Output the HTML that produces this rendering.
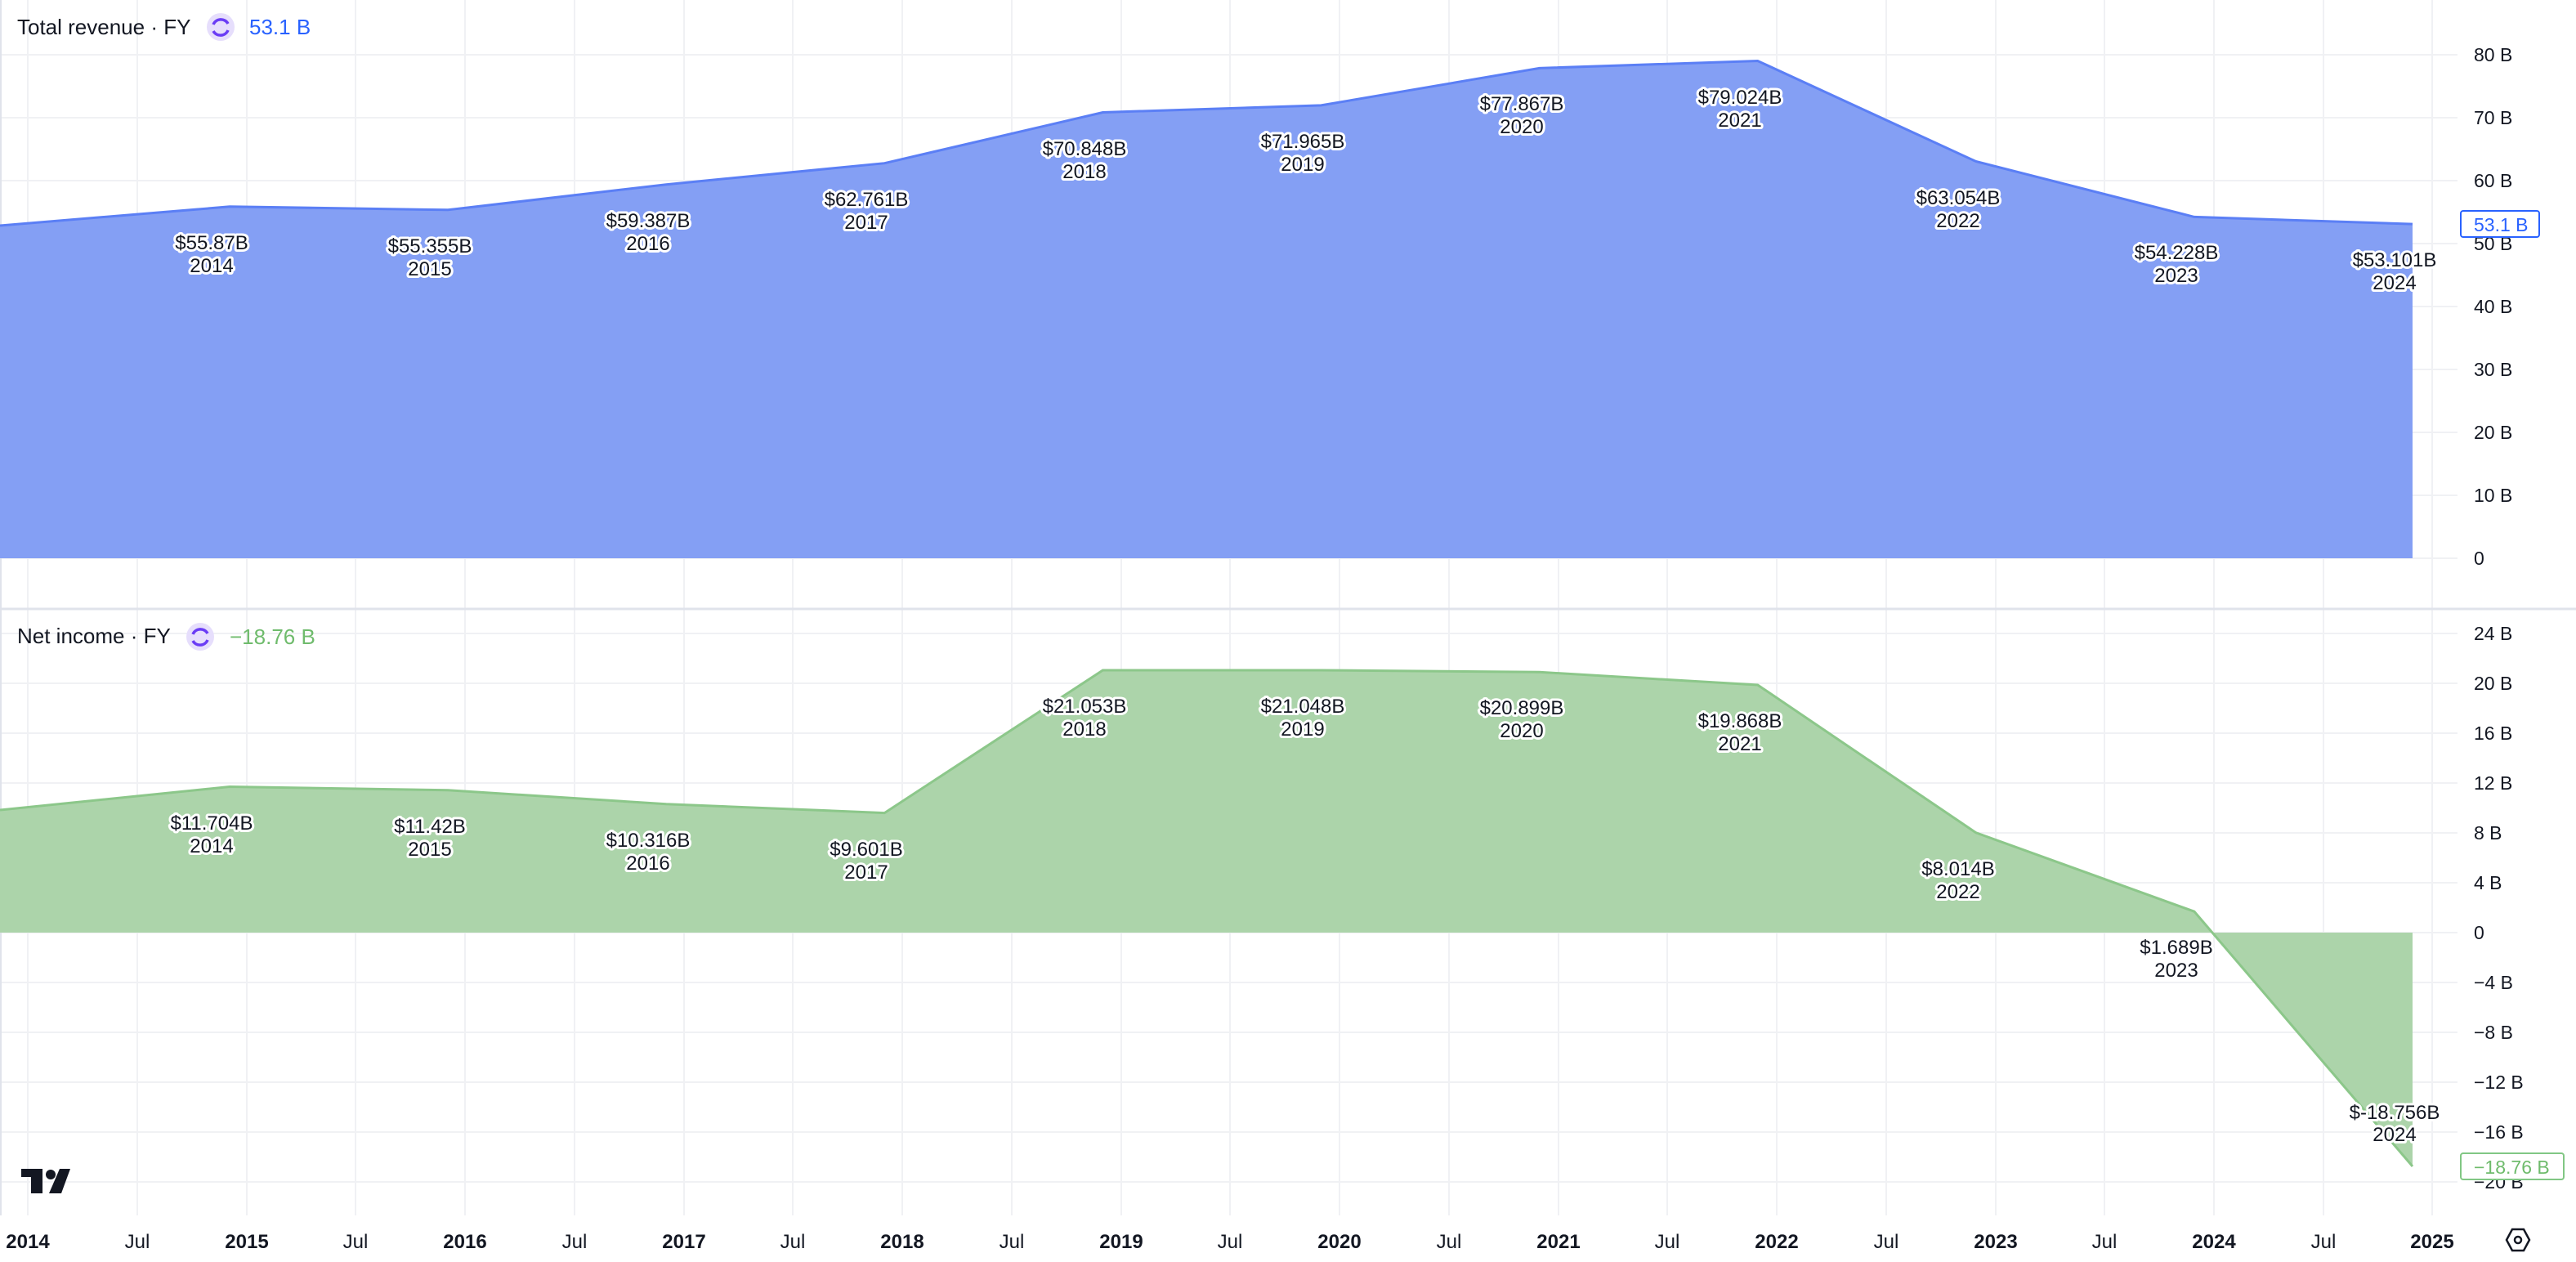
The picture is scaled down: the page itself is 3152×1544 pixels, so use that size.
<!DOCTYPE html>
<html><head><meta charset="utf-8"><style>
html,body{margin:0;padding:0;background:#fff;}
svg{display:block;}
text{font-family:"Liberation Sans",sans-serif;}
.lb{font-size:24px;fill:#131722;text-anchor:middle;stroke:#fff;stroke-width:6px;stroke-linejoin:round;paint-order:stroke;}
.ax{font-size:23px;fill:#131722;}
.tm{font-size:24px;fill:#131722;text-anchor:middle;}
.yr{font-weight:bold;}
</style></head><body>
<svg width="3152" height="1544" viewBox="0 0 3152 1544" xmlns="http://www.w3.org/2000/svg">
<rect width="3152" height="1544" fill="#fff"/>
<g stroke="#f0f1f4" stroke-width="2">
<line x1="34" y1="0" x2="34" y2="1487"/><line x1="168" y1="0" x2="168" y2="1487"/><line x1="302" y1="0" x2="302" y2="1487"/><line x1="435" y1="0" x2="435" y2="1487"/><line x1="569" y1="0" x2="569" y2="1487"/><line x1="703" y1="0" x2="703" y2="1487"/><line x1="837" y1="0" x2="837" y2="1487"/><line x1="970" y1="0" x2="970" y2="1487"/><line x1="1104" y1="0" x2="1104" y2="1487"/><line x1="1238" y1="0" x2="1238" y2="1487"/><line x1="1372" y1="0" x2="1372" y2="1487"/><line x1="1505" y1="0" x2="1505" y2="1487"/><line x1="1639" y1="0" x2="1639" y2="1487"/><line x1="1773" y1="0" x2="1773" y2="1487"/><line x1="1907" y1="0" x2="1907" y2="1487"/><line x1="2040" y1="0" x2="2040" y2="1487"/><line x1="2174" y1="0" x2="2174" y2="1487"/><line x1="2308" y1="0" x2="2308" y2="1487"/><line x1="2442" y1="0" x2="2442" y2="1487"/><line x1="2575" y1="0" x2="2575" y2="1487"/><line x1="2709" y1="0" x2="2709" y2="1487"/><line x1="2843" y1="0" x2="2843" y2="1487"/><line x1="2976" y1="0" x2="2976" y2="1487"/>
<line x1="0" y1="67" x2="3007" y2="67"/><line x1="0" y1="144" x2="3007" y2="144"/><line x1="0" y1="221" x2="3007" y2="221"/><line x1="0" y1="298" x2="3007" y2="298"/><line x1="0" y1="375" x2="3007" y2="375"/><line x1="0" y1="452" x2="3007" y2="452"/><line x1="0" y1="529" x2="3007" y2="529"/><line x1="0" y1="606" x2="3007" y2="606"/><line x1="0" y1="683" x2="3007" y2="683"/>
<line x1="0" y1="775" x2="3007" y2="775"/><line x1="0" y1="836" x2="3007" y2="836"/><line x1="0" y1="897" x2="3007" y2="897"/><line x1="0" y1="958" x2="3007" y2="958"/><line x1="0" y1="1019" x2="3007" y2="1019"/><line x1="0" y1="1080" x2="3007" y2="1080"/><line x1="0" y1="1141" x2="3007" y2="1141"/><line x1="0" y1="1202" x2="3007" y2="1202"/><line x1="0" y1="1263" x2="3007" y2="1263"/><line x1="0" y1="1324" x2="3007" y2="1324"/><line x1="0" y1="1385" x2="3007" y2="1385"/><line x1="0" y1="1446" x2="3007" y2="1446"/>
</g>
<line x1="0" y1="745" x2="3152" y2="745" stroke="#e0e3eb" stroke-width="3"/>
<line x1="1" y1="0" x2="1" y2="1487" stroke="#e0e3eb" stroke-width="2"/>
<!-- revenue -->
<polygon fill="#849ff4" points="0,276 281,252.8 548.1,256.8 815.2,225.7 1082.3,199.7 1349.4,137.5 1616.5,128.9 1883.6,83.4 2150.7,74.5 2417.8,197.5 2684.9,265.4 2952,274.1 2952,683 0,683"/>
<polyline fill="none" stroke="#5b7ff5" stroke-width="3" points="0,276 281,252.8 548.1,256.8 815.2,225.7 1082.3,199.7 1349.4,137.5 1616.5,128.9 1883.6,83.4 2150.7,74.5 2417.8,197.5 2684.9,265.4 2952,274.1"/>
<!-- net income -->
<polygon fill="#acd4aa" points="0,991 281,962.5 548.1,966.8 815.2,983.7 1082.3,994.6 1349.4,820 1616.5,820 1883.6,822.3 2150.7,838 2417.8,1018.8 2684.9,1115.2 2952,1427 2952,1141 0,1141"/>
<polyline fill="none" stroke="#8cc78a" stroke-width="3" points="0,991 281,962.5 548.1,966.8 815.2,983.7 1082.3,994.6 1349.4,820 1616.5,820 1883.6,822.3 2150.7,838 2417.8,1018.8 2684.9,1115.2 2952,1427"/>
<!-- revenue labels -->
<text class="lb" x="259" y="305">$55.87B</text><text class="lb" x="259" y="333">2014</text>
<text class="lb" x="526" y="309">$55.355B</text><text class="lb" x="526" y="337">2015</text>
<text class="lb" x="793" y="278">$59.387B</text><text class="lb" x="793" y="306">2016</text>
<text class="lb" x="1060" y="252">$62.761B</text><text class="lb" x="1060" y="280">2017</text>
<text class="lb" x="1327" y="190">$70.848B</text><text class="lb" x="1327" y="218">2018</text>
<text class="lb" x="1594" y="181">$71.965B</text><text class="lb" x="1594" y="209">2019</text>
<text class="lb" x="1862" y="135">$77.867B</text><text class="lb" x="1862" y="163">2020</text>
<text class="lb" x="2129" y="127">$79.024B</text><text class="lb" x="2129" y="155">2021</text>
<text class="lb" x="2396" y="250">$63.054B</text><text class="lb" x="2396" y="278">2022</text>
<text class="lb" x="2663" y="317">$54.228B</text><text class="lb" x="2663" y="345">2023</text>
<text class="lb" x="2930" y="326">$53.101B</text><text class="lb" x="2930" y="354">2024</text>
<!-- net labels -->
<text class="lb" x="259" y="1015">$11.704B</text><text class="lb" x="259" y="1043">2014</text>
<text class="lb" x="526" y="1019">$11.42B</text><text class="lb" x="526" y="1047">2015</text>
<text class="lb" x="793" y="1036">$10.316B</text><text class="lb" x="793" y="1064">2016</text>
<text class="lb" x="1060" y="1047">$9.601B</text><text class="lb" x="1060" y="1075">2017</text>
<text class="lb" x="1327" y="872">$21.053B</text><text class="lb" x="1327" y="900">2018</text>
<text class="lb" x="1594" y="872">$21.048B</text><text class="lb" x="1594" y="900">2019</text>
<text class="lb" x="1862" y="874">$20.899B</text><text class="lb" x="1862" y="902">2020</text>
<text class="lb" x="2129" y="890">$19.868B</text><text class="lb" x="2129" y="918">2021</text>
<text class="lb" x="2396" y="1071">$8.014B</text><text class="lb" x="2396" y="1099">2022</text>
<text class="lb" x="2663" y="1167">$1.689B</text><text class="lb" x="2663" y="1195">2023</text>
<text class="lb" x="2930" y="1369">$-18.756B</text><text class="lb" x="2930" y="1396">2024</text>
<!-- titles -->
<text x="21" y="42" font-size="26" fill="#131722">Total revenue · FY</text>
<circle cx="270" cy="33" r="17" fill="#e6defc"/>
<g fill="none" stroke="#6a3cf5" stroke-width="3.5"><path d="M261,30 A10,10 0 0 1 279,29"/><path d="M279,37 A10,10 0 0 1 261,38"/></g>
<text x="305" y="42" font-size="26" fill="#2962ff">53.1 B</text>
<text x="21" y="787" font-size="26" fill="#131722">Net income · FY</text>
<circle cx="245" cy="779" r="17" fill="#e6defc"/>
<g fill="none" stroke="#6a3cf5" stroke-width="3.5"><path d="M236,776 A10,10 0 0 1 254,775"/><path d="M254,783 A10,10 0 0 1 236,784"/></g>
<text x="281" y="788" font-size="26" fill="#6fbb6c">−18.76 B</text>
<!-- right axis -->
<g class="ax">
<text x="3027" y="75">80 B</text><text x="3027" y="152">70 B</text><text x="3027" y="229">60 B</text><text x="3027" y="306">50 B</text><text x="3027" y="383">40 B</text><text x="3027" y="460">30 B</text><text x="3027" y="537">20 B</text><text x="3027" y="614">10 B</text><text x="3027" y="691">0</text>
<text x="3027" y="783">24 B</text><text x="3027" y="844">20 B</text><text x="3027" y="905">16 B</text><text x="3027" y="966">12 B</text><text x="3027" y="1027">8 B</text><text x="3027" y="1088">4 B</text><text x="3027" y="1149">0</text><text x="3027" y="1210">−4 B</text><text x="3027" y="1271">−8 B</text><text x="3027" y="1332">−12 B</text><text x="3027" y="1393">−16 B</text><text x="3027" y="1454">−20 B</text>
</g>
<rect x="3011" y="258" width="96" height="32" rx="3" fill="#fff" stroke="#2962ff" stroke-width="2"/>
<text x="3027" y="283" font-size="23" fill="#2962ff">53.1 B</text>
<rect x="3011" y="1411" width="126" height="32" rx="3" fill="#fff" stroke="#81c784" stroke-width="2"/>
<text x="3027" y="1436" font-size="23" fill="#6fbb6c">−18.76 B</text>
<!-- time axis -->
<g class="tm">
<text class="yr" x="34" y="1527">2014</text><text x="168" y="1527">Jul</text>
<text class="yr" x="302" y="1527">2015</text><text x="435" y="1527">Jul</text>
<text class="yr" x="569" y="1527">2016</text><text x="703" y="1527">Jul</text>
<text class="yr" x="837" y="1527">2017</text><text x="970" y="1527">Jul</text>
<text class="yr" x="1104" y="1527">2018</text><text x="1238" y="1527">Jul</text>
<text class="yr" x="1372" y="1527">2019</text><text x="1505" y="1527">Jul</text>
<text class="yr" x="1639" y="1527">2020</text><text x="1773" y="1527">Jul</text>
<text class="yr" x="1907" y="1527">2021</text><text x="2040" y="1527">Jul</text>
<text class="yr" x="2174" y="1527">2022</text><text x="2308" y="1527">Jul</text>
<text class="yr" x="2442" y="1527">2023</text><text x="2575" y="1527">Jul</text>
<text class="yr" x="2709" y="1527">2024</text><text x="2843" y="1527">Jul</text>
<text class="yr" x="2976" y="1527">2025</text>
</g>
<polygon points="3074,1504 3088,1504 3095,1517 3088,1530 3074,1530 3067,1517" fill="none" stroke="#131722" stroke-width="2.5"/>
<circle cx="3081" cy="1517" r="4" fill="none" stroke="#131722" stroke-width="2.5"/>
<!-- logo -->
<g fill="#131722">
<path d="M26,1430 H52 V1460 H38 V1440 H26 Z"/>
<circle cx="62" cy="1437" r="6"/>
<path d="M73,1430 H86 L75,1460 H60 Z"/>
</g>
</svg>
</body></html>
